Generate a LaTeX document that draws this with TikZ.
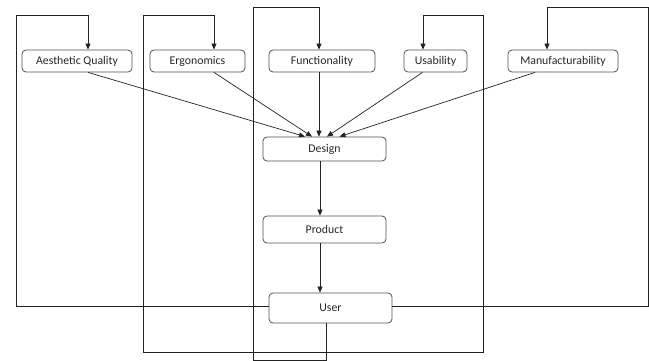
\documentclass[tikz,border=0pt]{standalone}
\usepackage{fontspec}
\setmainfont{Carlito}
\usetikzlibrary{arrows.meta}
\definecolor{boxline}{HTML}{505050}
\definecolor{wire}{HTML}{222222}
\tikzset{
  block/.style={draw=boxline,rounded corners=4pt,line width=0.8pt,inner sep=0pt,
    minimum height=22pt,text=black!85,font=\fontsize{11.8}{14}\selectfont},
  arr/.style={-{Triangle[length=6pt,width=5pt]},draw=wire,line width=0.7pt},
  wire/.style={draw=wire,line width=0.7pt}
}
\begin{document}
\begin{tikzpicture}[x=1pt,y=-1pt]
  \useasboundingbox (0,0) rectangle (649,361);
  % top row of qualities
  \node[block,minimum width=110pt] (aes) at (77,61) {Aesthetic Quality};
  \node[block,minimum width=95pt] (ergo) at (197.5,61) {Ergonomics};
  \node[block,minimum width=106pt] (func) at (322,61) {Functionality};
  \node[block,minimum width=63pt] (usab) at (435.5,61) {Usability};
  \node[block,minimum width=110pt] (manu) at (563,61) {Manufacturability};
  % middle column
  \node[block,minimum width=123pt,minimum height=24pt] (design) at (324.5,149) {Design};
  \node[block,minimum width=123pt,minimum height=27pt] (product) at (324.5,229.5) {Product};
  \node[block,minimum width=123pt,minimum height=30pt] (user) at (330.5,308) {User};
  % qualities into design
  \foreach \n/\a/\b in {aes/11/-19.5,ergo/16.5/-12.5,func/-3/-5.5,usab/-13/2.5,manu/-28/15}
    \draw[arr] ([xshift=\a pt]\n.south) -- ([xshift=\b pt]design.north);
  \draw[arr] ([xshift=-4.5pt]design.south) -- ([xshift=-4.5pt]product.north);
  \draw[arr] ([xshift=-4.5pt]product.south) -- ([xshift=-10.5pt]user.north);
  % feedback loops from user
  \draw[arr] ([yshift=2pt]user.west) -| (16,15) -| ([xshift=11pt]aes.north);
  \draw[arr] ([xshift=-4.5pt]user.south) |- (143,352) |- (214,15) -- ([xshift=16.5pt]ergo.north);
  \draw[arr] ([xshift=-4.5pt]user.south) |- (253,360) |- (319,7) -- ([xshift=-3pt]func.north);
  \draw[arr] ([xshift=-4.5pt]user.south) |- (483,352) |- (423,15) -- ([xshift=-12.5pt]usab.north);
  \draw[arr] ([yshift=2pt]user.east) -| (648,7) -| ([xshift=-16pt]manu.north);
\end{tikzpicture}
\end{document}
